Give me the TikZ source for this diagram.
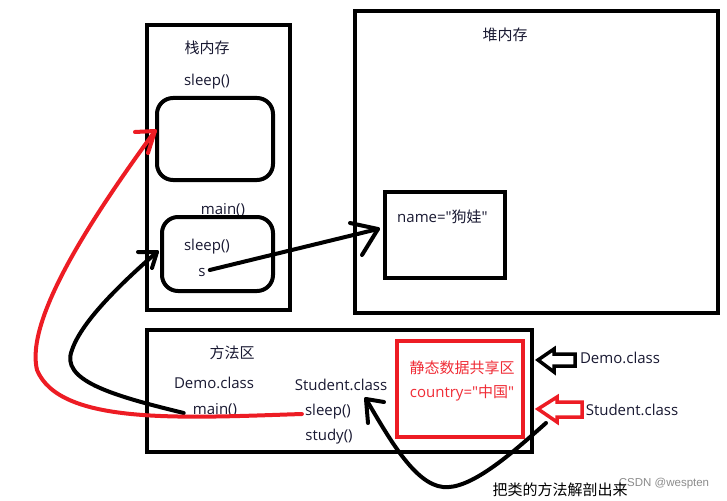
\documentclass[tikz,border=0pt]{standalone}
\usepackage{fontspec}
\setmainfont{Open Sans}[Ligatures=TeXOff]
\newfontfamily\cjk{Noto Sans CJK SC}[Ligatures=TeXOff]
\newfontfamily\wm{Liberation Sans}
\definecolor{ink}{RGB}{25,25,50}
\definecolor{pred}{RGB}{237,28,36}
\definecolor{tred}{RGB}{240,45,55}
\begin{document}
\begin{tikzpicture}[x=1pt,y=-1pt,
  box/.style={draw=black,line width=4pt,inner sep=0pt,outer sep=0pt},
  rbox/.style={box,rounded corners=16pt},
  txt/.style={inner sep=0pt,text=ink,font=\fontsize{15}{18}\selectfont},
  rtxt/.style={txt,text=tred},
  conn/.style={draw=black,line width=4pt,line cap=round,line join=round},
  rconn/.style={conn,draw=pred},
  hollow/.style={line width=3.5pt,line join=miter,fill=white}]
\useasboundingbox (0,0) rectangle (727,500);
\fill[white] (0,0) rectangle (727,500);

% stack
\node[box,minimum width=143pt,minimum height=285pt] (stack) at (218.5,167.5) {};
\node[txt] (stackT) at (207,48) {\cjk 栈内存};
\node[txt] (sleepA) at (207,82) {sleep()};
\node[rbox,minimum width=116pt,minimum height=82pt] (frame1) at (215,139) {};
\node[txt] (mainA) at (223,210) {main()};
\node[rbox,minimum width=111pt,minimum height=74pt] (frame2) at (217.5,254) {};
\node[txt] (sleepB) at (207,247) {sleep()};
\node[txt] (sVar) at (202,272) {s};

% heap
\node[box,minimum width=363pt,minimum height=302pt] (heap) at (536.5,162) {};
\node[txt] (heapT) at (505,35) {\cjk 堆内存};
\node[box,minimum width=120pt,minimum height=86pt] (obj) at (445,235) {};
\node[txt,anchor=west] (nameT) at (397,217) {name="{\cjk 狗娃}"};

% method area
\node[box,minimum width=385pt,minimum height=122pt] (method) at (339.5,391) {};
\node[txt] (methodT) at (232,353) {\cjk 方法区};
\node[txt] (demoC) at (214,383) {Demo.class};
\node[txt] (mainM) at (215,410) {main()};
\node[txt] (studC) at (341,385) {Student.class};
\node[txt] (sleepM) at (328,412) {sleep()};
\node[txt] (studyM) at (329,437) {study()};
\node[box,draw=pred,minimum width=126pt,minimum height=96pt] (static) at (460,389) {};
\node[rtxt] (staticT) at (462,368) {\cjk 静态数据共享区};
\node[rtxt] (country) at (462,393) {country="{\cjk 中国}"};

% right labels
\node[txt] (demoR) at (620,358) {Demo.class};
\node[txt] (studR) at (632,410) {Student.class};
\draw[hollow,draw=black] (538,360) -- (554,349) -- (554,354) -- (575,354) -- (575,366) -- (554,366) -- (554,372) -- cycle;
\draw[hollow,draw=pred] (538,409) -- (557,397) -- (557,402) -- (582,402) -- (582,417) -- (557,417) -- (557,422) -- cycle;

% bottom note + watermark
\node[inner sep=0pt,text=black!45,font=\wm\fontsize{11.5}{13}\selectfont] (wmark) at (664,484) {CSDN @wespten};
\node[txt,text=black] (note) at (560,490) {\cjk 把类的方法解剖出来};

% connectors
\coordinate (tip1) at (378,229);
\draw[conn] ([xshift=4pt,yshift=2pt]sVar.east) -- (tip1);
\draw[conn] (350,223) -- (tip1) -- (362,255);

\coordinate (tip2) at (157,252);
\draw[conn] ([xshift=-9pt,yshift=-3pt]mainM.west) .. controls (110,395) and (60,380) .. (72,350)
   .. controls (82,320) and (125,280) .. (tip2);
\draw[conn] (138,252) -- (tip2) -- (152,268);

\coordinate (tip3) at (155,131);
\draw[rconn] ([xshift=-3pt,yshift=-2pt]sleepM.west) .. controls (180,418) and (60,425) .. (37,370)
   .. controls (25,320) and (90,220) .. (tip3);
\draw[rconn] (135,132) -- (tip3) -- (148,153);

\coordinate (start4) at (546,423);
\coordinate (tip4) at (366,399);
\draw[conn] (start4) .. controls (510,455) and (470,490) .. (443,487)
   .. controls (415,484) and (390,440) .. (tip4);
\draw[conn] (384,402) -- (tip4) -- (368,423);
\end{tikzpicture}
\end{document}
